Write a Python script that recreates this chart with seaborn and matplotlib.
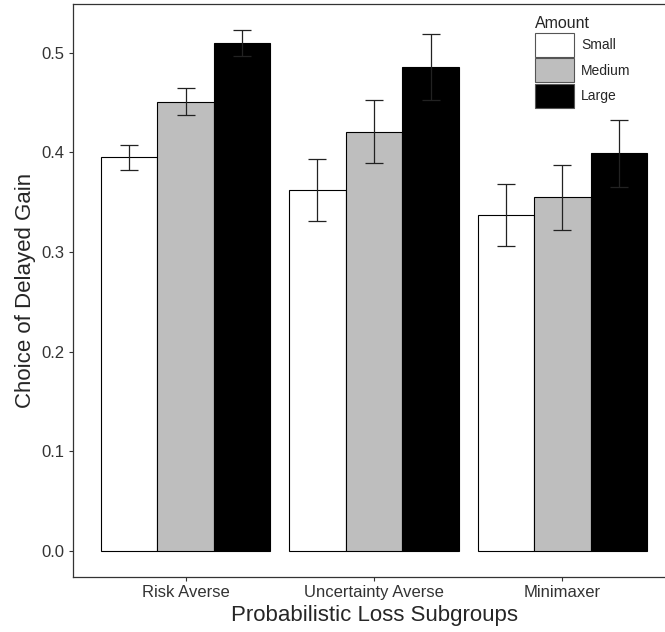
import pandas as pd
import matplotlib
matplotlib.use('Agg')
import matplotlib.pyplot as plt
import seaborn as sns

# data
groups = ['Risk Averse', 'Uncertainty Averse', 'Minimaxer']
amounts = ['Small', 'Medium', 'Large']
small = [0.395, 0.3625, 0.337]
medium = [0.451, 0.421, 0.355]
large = [0.510, 0.486, 0.399]
small_se = [0.0125, 0.031, 0.031]
medium_se = [0.0135, 0.032, 0.0325]
large_se = [0.013, 0.033, 0.034]

rows = []
for amt, vals, ses in zip(amounts, [small, medium, large], [small_se, medium_se, large_se]):
    for g, v, s in zip(groups, vals, ses):
        rows.append({'group': g, 'Amount': amt, 'choice': v, 'se': s})
df = pd.DataFrame(rows)

sns.set_style('ticks')
plt.rcParams['font.family'] = ['Liberation Sans', 'DejaVu Sans']

fig = plt.figure(figsize=(6.65, 6.32), dpi=100)
ax = fig.add_axes([73 / 665, 55 / 632, 602 / 665, 573 / 632])

sns.barplot(data=df, x='group', y='choice', hue='Amount', order=groups, hue_order=amounts,
            palette=['white', '#bebebe', 'black'], edgecolor='black', linewidth=0.8,
            width=0.9, errorbar=None, ax=ax)

# error bars at the bar centres
for amt, cont in zip(amounts, ax.containers):
    sub = df[df['Amount'] == amt].set_index('group').loc[groups]
    xs = [b.get_x() + b.get_width() / 2 for b in cont]
    ax.errorbar(xs, sub['choice'], yerr=sub['se'], fmt='none', ecolor='#222222',
                elinewidth=0.9, capsize=6.8, capthick=0.9, zorder=5)

ax.set_xlim(-0.598, 2.598)
ax.set_ylim(-0.026, 0.549)
ax.set_yticks([0.0, 0.1, 0.2, 0.3, 0.4, 0.5])
ax.set_yticklabels(['0.0', '0.1', '0.2', '0.3', '0.4', '0.5'])
ax.set_xlabel('Probabilistic Loss Subgroups', fontsize=16, labelpad=3)
ax.set_ylabel('Choice of Delayed Gain', fontsize=16, labelpad=4)
ax.tick_params(axis='both', labelsize=12, length=3, width=0.8, pad=3,
               color='#333333', labelcolor='#333333')
for name, sp in ax.spines.items():
    sp.set_visible(name != 'right')
    sp.set_color('#333333')
    sp.set_linewidth(0.9)

leg = ax.legend(title='Amount', loc='upper left', bbox_to_anchor=(535 / 665, 1 - 16 / 632),
                bbox_transform=fig.transFigure, frameon=False, fontsize=10, title_fontsize=11.5,
                handlelength=2.8, handleheight=2.28, labelspacing=0.12, handletextpad=0.5,
                borderpad=0, borderaxespad=0, alignment='left')
for h in leg.legend_handles:
    h.set_edgecolor('#555555')

plt.savefig('out.png', dpi=100)
